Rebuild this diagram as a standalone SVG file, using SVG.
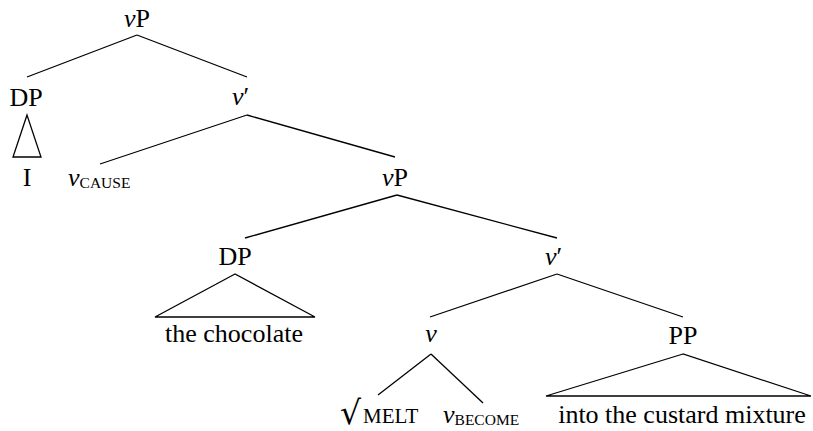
<svg xmlns="http://www.w3.org/2000/svg" width="813" height="431" viewBox="0 0 813 431">
<style>
text{font-family:"Liberation Serif","Times New Roman",serif;font-size:26px;fill:#000}
.c{text-anchor:middle}
.i{font-style:italic}
.sc{font-size:15.5px}
.mt{font-size:21px}
.rt{font-family:"DejaVu Serif",serif;font-size:33px}
line,polygon{stroke:#000;stroke-width:1.3;fill:none}
</style>
<rect width="813" height="431" fill="#fff"/>
<g id="edges">
<line x1="137" y1="35" x2="27" y2="77"/>
<line x1="137" y1="35" x2="247" y2="77"/>
<line x1="247" y1="115" x2="100" y2="164"/>
<line x1="247" y1="115" x2="395" y2="157"/>
<line x1="397" y1="195" x2="245" y2="238"/>
<line x1="397" y1="195" x2="557" y2="238"/>
<line x1="557" y1="274" x2="430" y2="317"/>
<line x1="557" y1="274" x2="683" y2="317"/>
<line x1="431" y1="354" x2="378" y2="395"/>
<line x1="431" y1="354" x2="483" y2="403"/>
</g>
<g id="vP1"><text class="c" x="137" y="27"><tspan class="i">v</tspan>P</text></g>
<g id="DP1"><text class="c" x="26" y="106">DP</text>
<polygon points="27,115 13,157 41,157"/>
<text class="c" x="27" y="186">I</text></g>
<g id="vbar1"><text x="232" y="105"><tspan class="i">v</tspan>′</text></g>
<g id="vcause"><text x="68" y="186"><tspan class="i">v</tspan><tspan class="sc" dy="2">CAUSE</tspan></text></g>
<g id="vP2"><text class="c" x="395" y="186"><tspan class="i">v</tspan>P</text></g>
<g id="DP2"><text class="c" x="235" y="265">DP</text>
<polygon points="235,274 155,317 315,317"/>
<text class="c" x="234" y="342">the chocolate</text></g>
<g id="vbar2"><text x="545" y="265"><tspan class="i">v</tspan>′</text></g>
<g id="v"><text class="c i" x="431" y="342">v</text></g>
<g id="melt"><text x="340" y="424"><tspan class="rt">√</tspan><tspan class="mt" x="363" y="423">MELT</tspan></text></g>
<g id="vbecome"><text x="443" y="423"><tspan class="i">v</tspan><tspan class="sc" dy="2">BECOME</tspan></text></g>
<g id="PP"><text class="c" x="683" y="344">PP</text>
<polygon points="683,354 546,396 811,396"/>
<text class="c" x="682" y="423">into the custard mixture</text></g>
</svg>
